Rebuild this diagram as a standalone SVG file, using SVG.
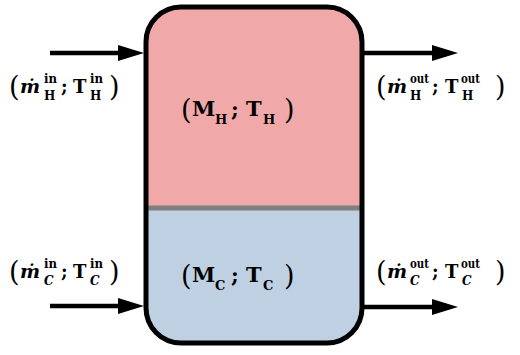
<svg xmlns="http://www.w3.org/2000/svg" width="520" height="355" viewBox="0 0 520 355">
<style>
text{font-family:"DejaVu Serif","Liberation Serif",serif;font-weight:bold;fill:#000}
.p{font-size:27px;font-weight:normal}
.m{font-size:18px}
.mi{font-size:19px;font-style:italic}
.s{font-size:12px}
.i{font-style:italic}
.b{font-size:21px}
.bs{font-size:13px}
.arr{stroke:#000;stroke-width:4.5;fill:none}
</style>
<rect width="520" height="355" fill="#fff"/>
<g id="connectors">
<line class="arr" x1="50" y1="53" x2="120" y2="53"/>
<path d="M118,45 L144,53 L118,61 Z"/>
<line class="arr" x1="364" y1="53" x2="434" y2="53"/>
<path d="M432,45 L458,53 L432,61 Z"/>
<line class="arr" x1="50" y1="306" x2="120" y2="306"/>
<path d="M118,298 L144,306 L118,314 Z"/>
<line class="arr" x1="364" y1="307" x2="434" y2="307"/>
<path d="M432,299 L458,307 L432,315 Z"/>
</g>
<g id="vessel">
<g id="hot">
<path d="M146,208 V42 A35,35 0 0 1 181,7 H327 A35,35 0 0 1 362,42 V208 Z" fill="#F0A8A8"/>
</g>
<g id="cold">
<path d="M146,208 V308 A35,35 0 0 0 181,343 H327 A35,35 0 0 0 362,308 V208 Z" fill="#BED0E1"/>
</g>
<line x1="146" y1="208" x2="362" y2="208" stroke="#7F7F7F" stroke-width="5"/>
<rect x="146" y="7" width="216" height="336" rx="35" ry="35" fill="none" stroke="#000" stroke-width="5"/>
</g>
<g id="label-hot">
<text class="p" x="181" y="119">(</text>
<text class="b" x="192" y="116">M</text>
<text class="bs" x="215" y="124">H</text>
<text class="b" x="231" y="116">;</text>
<text class="b" x="246" y="116">T</text>
<text class="bs" x="263" y="124">H</text>
<text class="p" x="284" y="119">)</text>
</g>
<g id="label-cold">
<text class="p" x="181" y="285">(</text>
<text class="b" x="192" y="282">M</text>
<text class="bs" x="215" y="290">C</text>
<text class="b" x="231" y="282">;</text>
<text class="b" x="246" y="282">T</text>
<text class="bs" x="263" y="290">C</text>
<text class="p" x="284" y="285">)</text>
</g>
<g id="label-hot-in">
<text class="p" x="9" y="96">(</text>
<text class="mi" x="20" y="93">ṁ</text>
<text class="s" x="44" y="83" textLength="13" lengthAdjust="spacingAndGlyphs">in</text>
<text class="s" x="44" y="100">H</text>
<text class="m" x="61" y="93">;</text>
<text class="m" x="73" y="93">T</text>
<text class="s" x="90" y="83" textLength="13" lengthAdjust="spacingAndGlyphs">in</text>
<text class="s" x="90" y="100">H</text>
<text class="p" x="109" y="96">)</text>
</g>
<g id="label-hot-out">
<text class="p" x="376" y="96">(</text>
<text class="mi" x="387" y="93">ṁ</text>
<text class="s" x="410" y="83" textLength="19" lengthAdjust="spacingAndGlyphs">out</text>
<text class="s" x="410" y="100">H</text>
<text class="m" x="432" y="93">;</text>
<text class="m" x="445" y="93">T</text>
<text class="s" x="461" y="83" textLength="19" lengthAdjust="spacingAndGlyphs">out</text>
<text class="s" x="462" y="100">H</text>
<text class="p" x="495" y="96">)</text>
</g>
<g id="label-cold-in">
<text class="p" x="9" y="281">(</text>
<text class="mi" x="20" y="278">ṁ</text>
<text class="s" x="44" y="268" textLength="13" lengthAdjust="spacingAndGlyphs">in</text>
<text class="s i" x="44" y="285">C</text>
<text class="m" x="61" y="278">;</text>
<text class="m" x="73" y="278">T</text>
<text class="s" x="90" y="268" textLength="13" lengthAdjust="spacingAndGlyphs">in</text>
<text class="s i" x="90" y="285">C</text>
<text class="p" x="109" y="281">)</text>
</g>
<g id="label-cold-out">
<text class="p" x="376" y="281">(</text>
<text class="mi" x="387" y="278">ṁ</text>
<text class="s" x="410" y="268" textLength="19" lengthAdjust="spacingAndGlyphs">out</text>
<text class="s i" x="410" y="285">C</text>
<text class="m" x="432" y="278">;</text>
<text class="m" x="445" y="278">T</text>
<text class="s" x="461" y="268" textLength="19" lengthAdjust="spacingAndGlyphs">out</text>
<text class="s i" x="462" y="285">C</text>
<text class="p" x="495" y="281">)</text>
</g>
</svg>
